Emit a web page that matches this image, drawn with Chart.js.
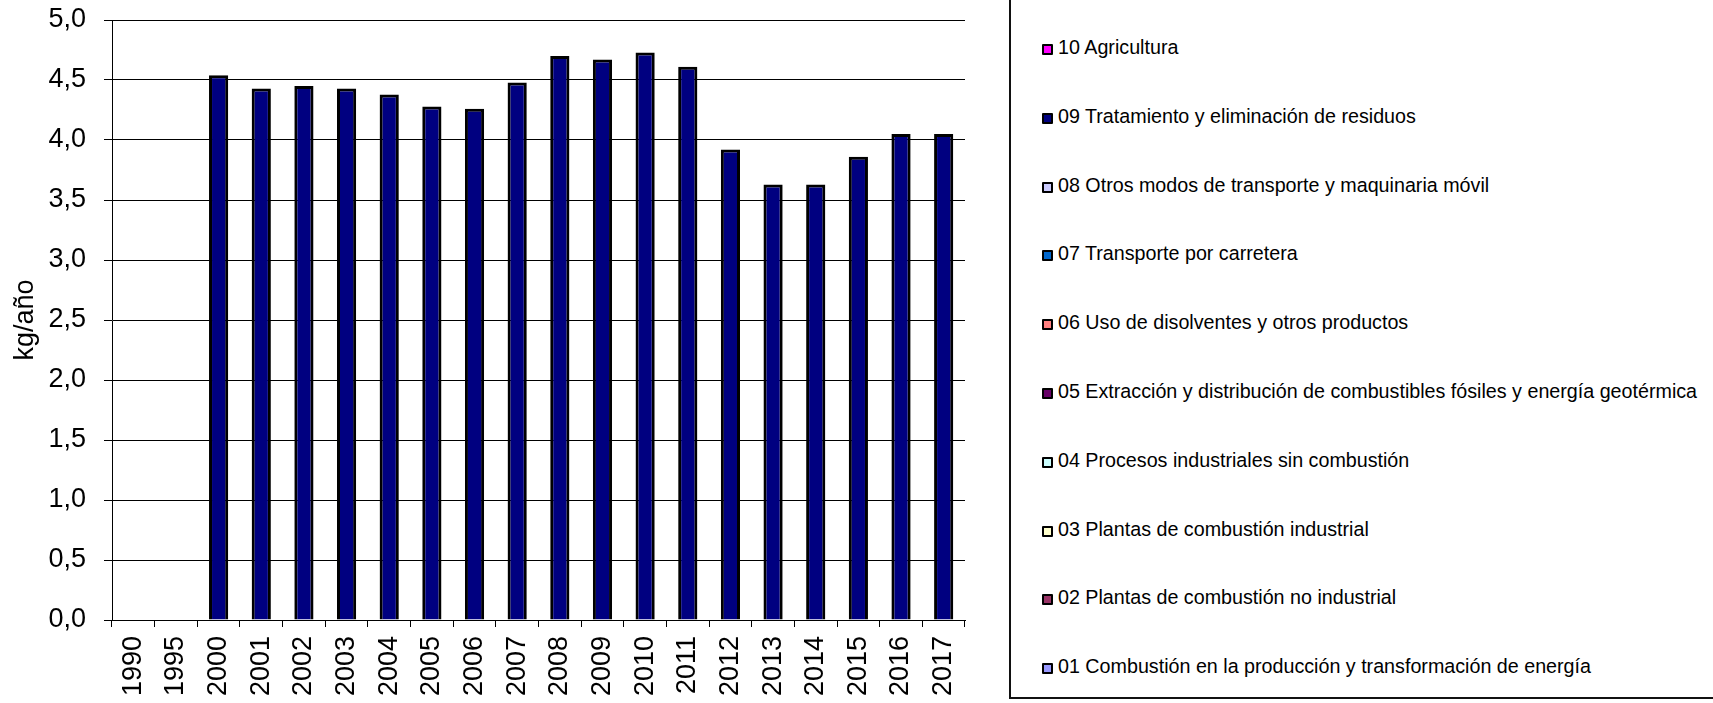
<!DOCTYPE html>
<html lang="es">
<head>
<meta charset="utf-8">
<title>kg/año por sector</title>
<script src="https://cdn.jsdelivr.net/npm/chart.js@4/dist/chart.umd.min.js"></script>
<style>
  html, body { margin: 0; padding: 0; background: #fff; overflow: hidden; }
  body { width: 1713px; height: 703px; position: relative; font-family: "Liberation Sans", Arial, sans-serif; }
  #wrap { position: absolute; left: 0; top: 0; width: 1000px; height: 703px; }
  #legend { position: absolute; left: 1009px; top: -6px; width: 800px; height: 705px; border: 2px solid #111; box-sizing: border-box; }
  .item { position: absolute; left: 31px; height: 22px; line-height: 22px; font-size: 19.7px; color: #000; white-space: nowrap; }
  .item__box { display: inline-block; width: 11px; height: 11px; border: 2px solid #000; border-radius: 1px; box-sizing: border-box; margin-right: 5px; vertical-align: -1px; }
</style>
</head>
<body>
<div id="wrap"><canvas id="chart"></canvas></div>
<div id="legend"></div>
<script>
var YEARS = ["1990", "1995", "2000", "2001", "2002", "2003", "2004", "2005", "2006", "2007", "2008", "2009", "2010", "2011", "2012", "2013", "2014", "2015", "2016", "2017"];

var SECTORS = [
  "01 Combustión en la producción y transformación de energía",
  "02 Plantas de combustión no industrial",
  "03 Plantas de combustión industrial",
  "04 Procesos industriales sin combustión",
  "05 Extracción y distribución de combustibles fósiles y energía geotérmica",
  "06 Uso de disolventes y otros productos",
  "07 Transporte por carretera",
  "08 Otros modos de transporte y maquinaria móvil",
  "09 Tratamiento y eliminación de residuos",
  "10 Agricultura"
];
var COLORS = ["#9999ff", "#993366", "#ffffcc", "#ccffff", "#660066", "#ff8080", "#0066cc", "#ccccff", "#000080", "#ff00ff"];

// kg/año por sector (solo 09 tiene valores distintos de cero)
var S01 = [null, null, 0, 0, 0, 0, 0, 0, 0, 0, 0, 0, 0, 0, 0, 0, 0, 0, 0, 0];
var S02 = [null, null, 0, 0, 0, 0, 0, 0, 0, 0, 0, 0, 0, 0, 0, 0, 0, 0, 0, 0];
var S03 = [null, null, 0, 0, 0, 0, 0, 0, 0, 0, 0, 0, 0, 0, 0, 0, 0, 0, 0, 0];
var S04 = [null, null, 0, 0, 0, 0, 0, 0, 0, 0, 0, 0, 0, 0, 0, 0, 0, 0, 0, 0];
var S05 = [null, null, 0, 0, 0, 0, 0, 0, 0, 0, 0, 0, 0, 0, 0, 0, 0, 0, 0, 0];
var S06 = [null, null, 0, 0, 0, 0, 0, 0, 0, 0, 0, 0, 0, 0, 0, 0, 0, 0, 0, 0];
var S07 = [null, null, 0, 0, 0, 0, 0, 0, 0, 0, 0, 0, 0, 0, 0, 0, 0, 0, 0, 0];
var S08 = [null, null, 0, 0, 0, 0, 0, 0, 0, 0, 0, 0, 0, 0, 0, 0, 0, 0, 0, 0];
var S09 = [null, null, 4.54, 4.43, 4.45, 4.43, 4.38, 4.28, 4.26, 4.48, 4.70, 4.67, 4.73, 4.61, 3.92, 3.63, 3.63, 3.86, 4.05, 4.05];
var S10 = [null, null, 0, 0, 0, 0, 0, 0, 0, 0, 0, 0, 0, 0, 0, 0, 0, 0, 0, 0];
var SERIES = [S01, S02, S03, S04, S05, S06, S07, S08, S09, S10];

var Y_MIN = 0, Y_MAX = 5, Y_STEP = 0.5;

(function () {
  "use strict";
  var INK = "#000";
  var FONT = "'Liberation Sans', Arial, sans-serif";

  Chart.defaults.font.family = FONT;
  Chart.defaults.color = INK;

  var datasets = SERIES.map(function (data, i) {
    return {
      label: SECTORS[i],
      data: data,
      backgroundColor: COLORS[i],
      borderColor: INK,
      borderWidth: function (ctx) { return ctx.raw ? 3 : 0; },
      barPercentage: 0.45,
      categoryPercentage: 1
    };
  });

  new Chart(document.getElementById("chart"), {
    type: "bar",
    data: { labels: YEARS, datasets: datasets },
    options: {
      responsive: true,
      maintainAspectRatio: false,
      animation: false,
      layout: { padding: { top: 20, right: 35, left: 0, bottom: 0 } },
      scales: {
        x: {
          stacked: true,
          afterFit: function (s) { s.height = 83; s.paddingLeft = 0; s.paddingRight = 0; },
          grid: { display: true, drawOnChartArea: false, drawTicks: true, tickLength: 7, color: INK, lineWidth: 1, offset: true },
          border: { display: true, color: INK, width: 1 },
          ticks: { font: { size: 27 }, minRotation: 90, maxRotation: 90, padding: 9, autoSkip: false }
        },
        y: {
          stacked: true,
          min: Y_MIN, max: Y_MAX,
          afterFit: function (s) { s.width = 112; s.paddingTop = 0; s.paddingBottom = 0; },
          grid: { color: INK, lineWidth: 1, tickLength: 8 },
          border: { display: true, color: INK, width: 1 },
          ticks: {
            stepSize: Y_STEP, font: { size: 27 }, padding: 18,
            callback: function (v) { return v.toFixed(1).replace(".", ","); }
          },
          title: { display: true, text: "kg/año", font: { size: 27 }, padding: { top: 9, bottom: 4 } }
        }
      },
      plugins: { legend: { display: false }, tooltip: { enabled: true } }
    }
  });

  // leyenda a la derecha, de 10 a 01 como en el original
  var legend = document.getElementById("legend");
  var FIRST_Y = 47 + 6, STEP_Y = 68.8;
  SECTORS.slice().reverse().forEach(function (name, i) {
    var color = COLORS[SECTORS.length - 1 - i];
    var el = document.createElement("div");
    el.className = "item";
    el.style.top = (FIRST_Y + i * STEP_Y - 11 - 2) + "px";
    el.innerHTML = '<span class="item__box" style="background:' + color + '"></span>' + name;
    legend.appendChild(el);
  });
})();
</script>
</body>
</html>
